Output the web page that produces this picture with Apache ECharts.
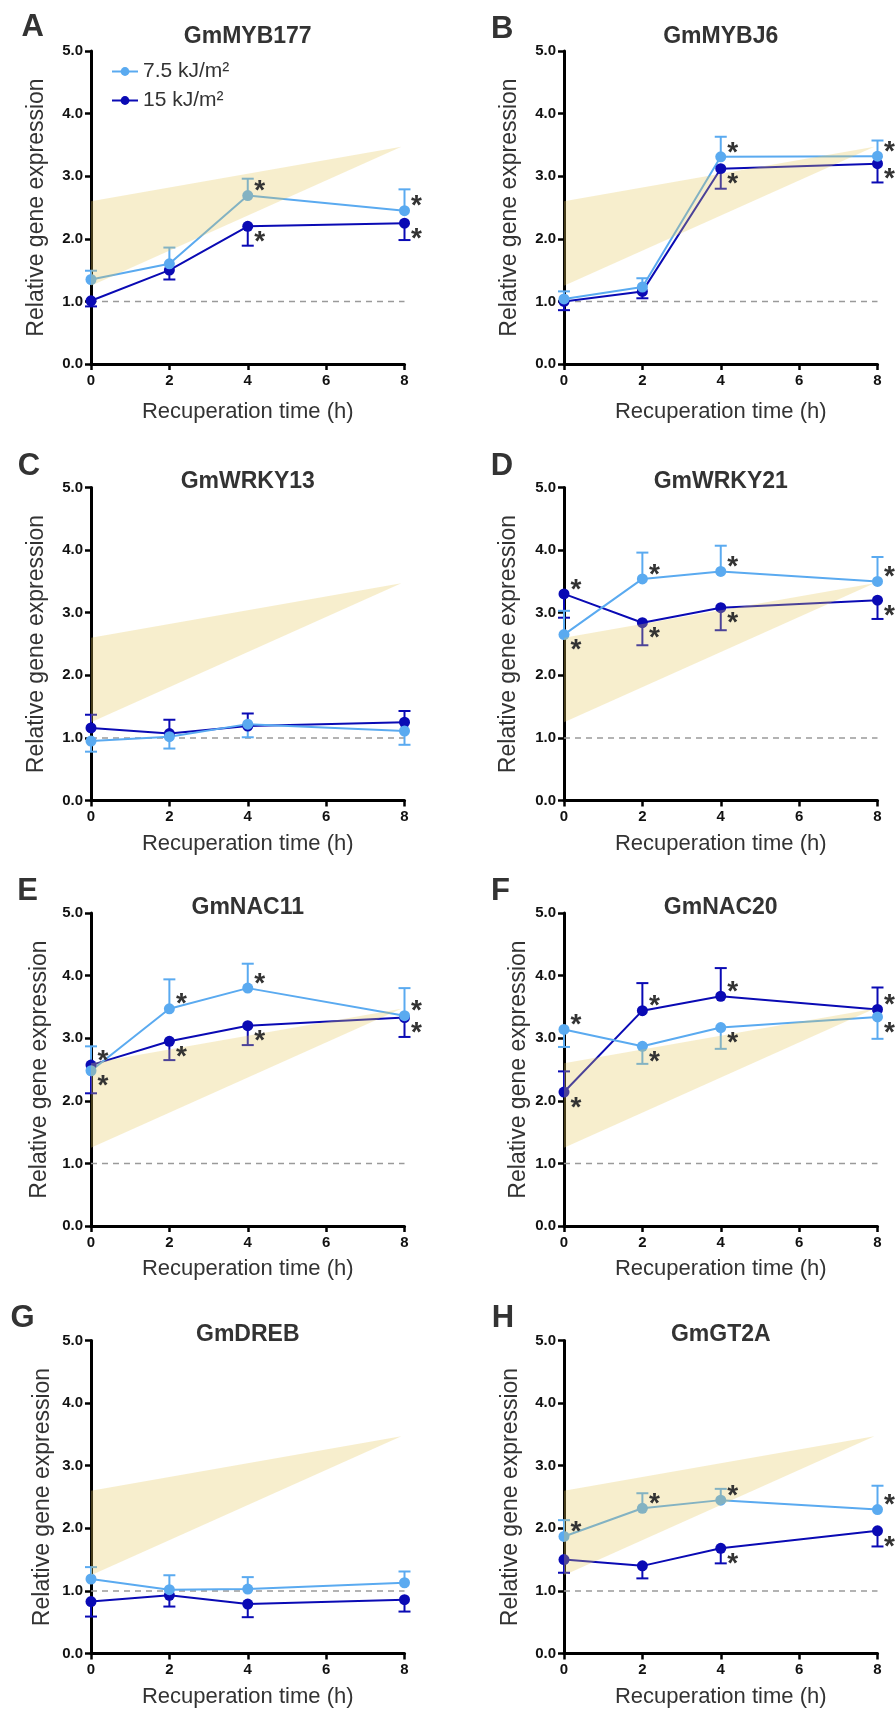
<!DOCTYPE html>
<html><head><meta charset="utf-8">
<script src="https://cdn.jsdelivr.net/npm/echarts@6/dist/echarts.min.js"></script>
<style>html,body{margin:0;padding:0;background:#fff}#c{width:896px;height:1714px}</style>
</head><body><div id="c"></div><script>
// ---------------- data ----------------
const hours = [0, 2, 4, 8];
const genes = ['GmMYB177', 'GmMYBJ6', 'GmWRKY13', 'GmWRKY21', 'GmNAC11', 'GmNAC20', 'GmDREB', 'GmGT2A'];
const panelLetters = ['A', 'B', 'C', 'D', 'E', 'F', 'G', 'H'];
const seriesNames = ['7.5 kJ/m²', '15 kJ/m²'];
const xTicks = [0, 2, 4, 6, 8];
const yTicks = [0, 1, 2, 3, 4, 5];
const xTitle = 'Recuperation time (h)';
const yTitle = 'Relative gene expression';
// signed error: + drawn upward, - drawn downward. sig: 1 star above, -1 star below, 0 none
const myb177Low = [1.35, 1.60, 2.69, 2.45];
const myb177LowErr = [0.14, 0.26, 0.27, 0.34];
const myb177LowSig = [0, 0, 1, 1];
const myb177High = [1.01, 1.50, 2.20, 2.25];
const myb177HighErr = [-0.09, -0.15, -0.31, -0.27];
const myb177HighSig = [0, 0, -1, -1];

const mybj6Low = [1.04, 1.23, 3.31, 3.32];
const mybj6LowErr = [0.12, 0.14, 0.32, 0.25];
const mybj6LowSig = [0, 0, 1, 1];
const mybj6High = [1.00, 1.16, 3.12, 3.20];
const mybj6HighErr = [-0.14, -0.11, -0.32, -0.30];
const mybj6HighSig = [0, 0, -1, -1];

const wrky13Low = [0.95, 1.02, 1.22, 1.11];
const wrky13LowErr = [-0.17, -0.19, -0.21, -0.22];
const wrky13LowSig = [0, 0, 0, 0];
const wrky13High = [1.16, 1.07, 1.19, 1.25];
const wrky13HighErr = [0.21, 0.22, 0.20, 0.18];
const wrky13HighSig = [0, 0, 0, 0];

const wrky21Low = [2.65, 3.54, 3.66, 3.50];
const wrky21LowErr = [0.38, 0.42, 0.41, 0.39];
const wrky21LowSig = [-1, 1, 1, 1];
const wrky21High = [3.30, 2.84, 3.08, 3.20];
const wrky21HighErr = [-0.38, -0.36, -0.36, -0.30];
const wrky21HighSig = [1, -1, -1, -1];

const nac11Low = [2.48, 3.47, 3.80, 3.36];
const nac11LowErr = [0.39, 0.47, 0.39, 0.44];
const nac11LowSig = [-1, 1, 1, 1];
const nac11High = [2.57, 2.95, 3.20, 3.33];
const nac11HighErr = [-0.45, -0.30, -0.31, -0.31];
const nac11HighSig = [1, -1, -1, -1];

const nac20Low = [3.14, 2.87, 3.17, 3.34];
const nac20LowErr = [-0.28, -0.28, -0.34, -0.35];
const nac20LowSig = [1, -1, -1, -1];
const nac20High = [2.14, 3.44, 3.67, 3.46];
const nac20HighErr = [0.33, 0.44, 0.45, 0.35];
const nac20HighSig = [-1, 1, 1, 1];

const drebLow = [1.19, 1.02, 1.03, 1.13];
const drebLowErr = [0.19, 0.23, 0.19, 0.18];
const drebLowSig = [0, 0, 0, 0];
const drebHigh = [0.83, 0.93, 0.79, 0.86];
const drebHighErr = [-0.24, -0.18, -0.21, -0.19];
const drebHighSig = [0, 0, 0, 0];

const gt2aLow = [1.87, 2.32, 2.45, 2.30];
const gt2aLowErr = [0.26, 0.24, 0.18, 0.38];
const gt2aLowSig = [1, 1, 1, 1];
const gt2aHigh = [1.50, 1.40, 1.68, 1.96];
const gt2aHighErr = [-0.21, -0.20, -0.24, -0.25];
const gt2aHighSig = [0, 0, -1, -1];

// shaded wedge (same in each panel) and reference level
const bandX = [0, 7.92];
const bandTop = [2.60, 3.47];
const bandBottom = [1.25, 3.47];
const baseline = 1;

const panels = [
  [myb177Low, myb177LowErr, myb177LowSig, myb177High, myb177HighErr, myb177HighSig],
  [mybj6Low, mybj6LowErr, mybj6LowSig, mybj6High, mybj6HighErr, mybj6HighSig],
  [wrky13Low, wrky13LowErr, wrky13LowSig, wrky13High, wrky13HighErr, wrky13HighSig],
  [wrky21Low, wrky21LowErr, wrky21LowSig, wrky21High, wrky21HighErr, wrky21HighSig],
  [nac11Low, nac11LowErr, nac11LowSig, nac11High, nac11HighErr, nac11HighSig],
  [nac20Low, nac20LowErr, nac20LowSig, nac20High, nac20HighErr, nac20HighSig],
  [drebLow, drebLowErr, drebLowSig, drebHigh, drebHighErr, drebHighSig],
  [gt2aLow, gt2aLowErr, gt2aLowSig, gt2aHigh, gt2aHighErr, gt2aHighSig]
];

// ---------------- layout / style ----------------
const FONT = '"Liberation Sans", Arial, Helvetica, sans-serif';
const colLeft = [91, 564];
const rowTop = [51, 487.5, 913, 1340.5];
const gridW = 313.5, gridH = 313;
const yNameGap = [43, 43, 43, 43.5, 40, 34, 37, 41.5];
const xNameGap = [36.5, 36.5, 32, 32, 32, 32, 32, 32];
const titleOffset = [14, 14, 5.5, 5.5, 5, 5, 6, 6];
const letterPos = [[32.8, 27], [502.3, 29], [29, 466.5], [502, 466.5], [27.7, 891.8], [500.5, 891.8], [22.5, 1318.5], [503, 1318.5]];
const LIGHT = '#5aaaf0', DARK = '#0a0ab4';

const grids = [], xAxes = [], yAxes = [], series = [], graphics = [];

function errRender(color) {
  return function (params, api) {
    const x = api.value(0), y = api.value(1), e = api.value(2);
    const p0 = api.coord([x, y]);
    const p1 = api.coord([x, y + e]);
    return {
      type: 'group',
      children: [
        { type: 'line', shape: { x1: p0[0], y1: p0[1], x2: p1[0], y2: p1[1] }, style: { stroke: color, lineWidth: 2 } },
        { type: 'line', shape: { x1: p1[0] - 6, y1: p1[1], x2: p1[0] + 6, y2: p1[1] }, style: { stroke: color, lineWidth: 2 } }
      ]
    };
  };
}
function starRender(params, api) {
  const x = api.value(0), y = api.value(1), d = api.value(2);
  const p = api.coord([x, y]);
  return {
    type: 'text',
    x: p[0] + 12, y: p[1] - d * 10 + 6,
    style: { text: '*', font: 'bold 28px ' + FONT, fill: '#333', align: 'center', verticalAlign: 'middle', textAlign: 'center', textVerticalAlign: 'middle' }
  };
}
function bandRender(params, api) {
  const pts = [];
  for (let k = 0; k < bandX.length; k++) pts.push(api.coord([bandX[k], bandTop[k]]));
  for (let k = bandX.length - 1; k >= 0; k--) pts.push(api.coord([bandX[k], bandBottom[k]]));
  return { type: 'polygon', shape: { points: pts }, style: { fill: 'rgb(230,200,90)', opacity: 0.3 } };
}

panels.forEach((p, i) => {
  const col = i % 2, row = Math.floor(i / 2);
  const left = colLeft[col], top = rowTop[row];
  grids.push({ left: left, top: top, width: gridW, height: gridH });
  xAxes.push({
    gridIndex: i, type: 'value', min: xTicks[0], max: xTicks[xTicks.length - 1], interval: xTicks[1] - xTicks[0],
    name: xTitle, nameLocation: 'middle', nameGap: xNameGap[i],
    nameTextStyle: { fontFamily: FONT, fontSize: 22, color: '#333' },
    axisLine: { onZero: false, lineStyle: { color: '#000', width: 3 } },
    axisTick: { length: 6, lineStyle: { color: '#000', width: 2.5 } },
    axisLabel: { fontFamily: FONT, fontSize: 15, fontWeight: 'bold', color: '#111', margin: 9 },
    splitLine: { show: false }
  });
  yAxes.push({
    gridIndex: i, type: 'value', min: yTicks[0], max: yTicks[yTicks.length - 1], interval: yTicks[1] - yTicks[0],
    name: yTitle, nameLocation: 'middle', nameGap: yNameGap[i],
    nameTextStyle: { fontFamily: FONT, fontSize: 23, color: '#333' },
    axisLine: { onZero: false, lineStyle: { color: '#000', width: 3 } },
    axisTick: { length: 6, lineStyle: { color: '#000', width: 2.5 } },
    axisLabel: { fontFamily: FONT, fontSize: 15, fontWeight: 'bold', color: '#111', margin: 8, formatter: v => v.toFixed(1) },
    splitLine: { show: false }
  });
  // baseline
  series.push({
    type: 'line', xAxisIndex: i, yAxisIndex: i, z: 1, silent: true, symbol: 'none',
    data: [[xTicks[0], baseline], [xTicks[xTicks.length - 1], baseline]],
    lineStyle: { color: '#9a9a9a', width: 1.5, type: [6, 5] }
  });
  // order: dark (15) first then light (7.5)
  const sets = [
    { name: seriesNames[1], vals: p[3], err: p[4], sig: p[5], color: DARK },
    { name: seriesNames[0], vals: p[0], err: p[1], sig: p[2], color: LIGHT }
  ];
  sets.forEach(s => {
    series.push({
      type: 'custom', xAxisIndex: i, yAxisIndex: i, z: 2, silent: true,
      renderItem: errRender(s.color),
      data: hours.map((h, j) => [h, s.vals[j], s.err[j]])
    });
  });
  sets.forEach(s => {
    series.push({
      type: 'line', name: s.name, xAxisIndex: i, yAxisIndex: i, z: 3,
      symbol: 'circle', symbolSize: 11,
      data: hours.map((h, j) => [h, s.vals[j]]),
      itemStyle: { color: s.color }, lineStyle: { color: s.color, width: 2 }
    });
  });
  series.push({
    type: 'custom', xAxisIndex: i, yAxisIndex: i, z: 4, silent: true,
    renderItem: bandRender, data: [[0, 0]]
  });
  sets.forEach(s => {
    series.push({
      type: 'custom', xAxisIndex: i, yAxisIndex: i, z: 5, silent: true,
      renderItem: starRender,
      data: hours.map((h, j) => [h, s.vals[j], s.sig[j]]).filter(d => d[2] !== 0)
    });
  });
  graphics.push({
    type: 'text', x: left + gridW / 2, y: top - titleOffset[i],
    style: { text: genes[i], font: 'bold 23px ' + FONT, fill: '#333', align: 'center', verticalAlign: 'middle', textAlign: 'center', textVerticalAlign: 'middle' }
  });
  graphics.push({
    type: 'text', x: letterPos[i][0], y: letterPos[i][1],
    style: { text: panelLetters[i], font: 'bold 31px ' + FONT, fill: '#333', align: 'center', verticalAlign: 'middle', textAlign: 'center', textVerticalAlign: 'middle' }
  });
});

const chart = echarts.init(document.getElementById('c'), null, { renderer: 'canvas' });
chart.setOption({
  backgroundColor: '#fff',
  animation: false,
  textStyle: { fontFamily: FONT },
  grid: grids, xAxis: xAxes, yAxis: yAxes, series: series, graphic: graphics,
  legend: {
    data: [seriesNames[0], seriesNames[1]], orient: 'vertical', left: 106, top: 56,
    itemWidth: 26, itemHeight: 11, itemGap: 8, selectedMode: false,
    textStyle: { fontFamily: FONT, fontSize: 21, color: '#333' }
  }
});
</script></body></html>
